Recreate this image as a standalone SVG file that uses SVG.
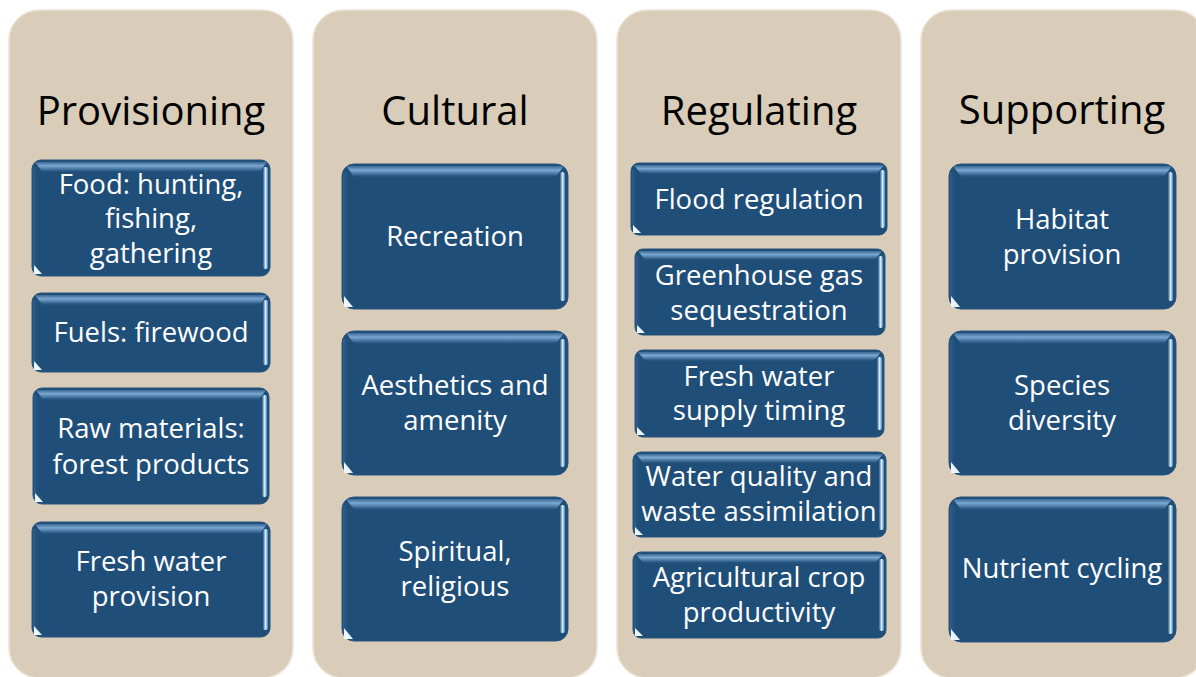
<svg xmlns="http://www.w3.org/2000/svg" width="1196" height="677" viewBox="0 0 1196 677">
<defs>
<linearGradient id="gTop" x1="0" y1="0" x2="0" y2="1">
<stop offset="0" stop-color="#3a6996"/>
<stop offset="0.35" stop-color="#7ba7d0"/>
<stop offset="0.7" stop-color="#3c6c99"/>
<stop offset="1" stop-color="#1f4e79" stop-opacity="0"/>
</linearGradient>
<linearGradient id="gRight" x1="0" y1="0" x2="1" y2="0">
<stop offset="0" stop-color="#2a5c8a"/>
<stop offset="0.5" stop-color="#d4ecfb"/>
<stop offset="1" stop-color="#4f86b9"/>
</linearGradient>
<linearGradient id="gLeft" x1="0" y1="0" x2="1" y2="0">
<stop offset="0" stop-color="#2f5f8c"/>
<stop offset="1" stop-color="#1f4e79" stop-opacity="0"/>
</linearGradient>
</defs>
<style>
.col{fill:#d9cdb9;stroke:#ece5d8;stroke-width:1.5}
.title{font-family:"Open Sans","Noto Sans",sans-serif;font-size:40px;fill:#000;text-anchor:middle}
.bx{fill:#1f4e79;stroke:#2b557c;stroke-width:1}
.top{fill:url(#gTop)}
.rt{fill:url(#gRight)}
.lf{fill:url(#gLeft)}
.tri{fill:#eaf5fd}
.lbl{font-family:"Open Sans","Noto Sans",sans-serif;font-size:27.5px;fill:#fff;text-anchor:middle}
</style>
<g id="connectors"/>

<g id="col-provisioning">
<rect class="col" x="9" y="10" width="284" height="668" rx="30"/>
<text class="title" x="151" y="125">Provisioning</text>
</g>
<g id="col-cultural">
<rect class="col" x="313" y="10" width="284" height="668" rx="30"/>
<text class="title" x="455" y="125">Cultural</text>
</g>
<g id="col-regulating">
<rect class="col" x="617" y="10" width="284" height="668" rx="30"/>
<text class="title" x="759" y="125">Regulating</text>
</g>
<g id="col-supporting">
<rect class="col" x="921" y="10" width="284" height="668" rx="30"/>
<text class="title" x="1062" y="124">Supporting</text>
</g>

<!-- Provisioning boxes -->
<g id="food">
<rect class="bx" x="32" y="160" width="238" height="116" rx="9"/>
<path class="top" d="M35,162 H267 L259,173 H43 Z"/>
<rect class="lf" x="33" y="167" width="6" height="102"/>
<rect class="rt" x="263" y="167" width="5" height="102" rx="2"/>
<path class="tri" d="M34,265 V274 H42 Z"/>
<text class="lbl" x="151" y="194">Food: hunting,</text>
<text class="lbl" x="151" y="228">fishing,</text>
<text class="lbl" x="151" y="263">gathering</text>
</g>
<g id="fuels">
<rect class="bx" x="32" y="293" width="238" height="79" rx="9"/>
<path class="top" d="M35,295 H267 L259,306 H43 Z"/>
<rect class="lf" x="33" y="300" width="6" height="65"/>
<rect class="rt" x="263" y="300" width="5" height="65" rx="2"/>
<path class="tri" d="M34,361 V370 H42 Z"/>
<text class="lbl" x="151" y="342">Fuels: firewood</text>
</g>
<g id="raw">
<rect class="bx" x="33" y="388" width="236" height="116" rx="9"/>
<path class="top" d="M36,390 H266 L258,401 H44 Z"/>
<rect class="lf" x="34" y="395" width="6" height="102"/>
<rect class="rt" x="262" y="395" width="5" height="102" rx="2"/>
<path class="tri" d="M35,493 V502 H43 Z"/>
<text class="lbl" x="151" y="438">Raw materials:</text>
<text class="lbl" x="151" y="474">forest products</text>
</g>
<g id="freshwater">
<rect class="bx" x="32" y="522" width="238" height="115" rx="9"/>
<path class="top" d="M35,524 H267 L259,535 H43 Z"/>
<rect class="lf" x="33" y="529" width="6" height="101"/>
<rect class="rt" x="263" y="529" width="5" height="101" rx="2"/>
<path class="tri" d="M34,626 V635 H42 Z"/>
<text class="lbl" x="151" y="571">Fresh water</text>
<text class="lbl" x="151" y="606">provision</text>
</g>

<!-- Cultural boxes -->
<g id="recreation">
<rect class="bx" x="342" y="164" width="226" height="145" rx="12"/>
<path class="top" d="M346,166 H564 L555,178 H355 Z"/>
<rect class="lf" x="343" y="172" width="7" height="129"/>
<rect class="rt" x="560" y="172" width="5" height="129" rx="2"/>
<path class="tri" d="M344,296 V307 H353 Z"/>
<text class="lbl" x="455" y="246">Recreation</text>
</g>
<g id="aesthetics">
<rect class="bx" x="342" y="331" width="226" height="144" rx="12"/>
<path class="top" d="M346,333 H564 L555,345 H355 Z"/>
<rect class="lf" x="343" y="339" width="7" height="128"/>
<rect class="rt" x="560" y="339" width="5" height="128" rx="2"/>
<path class="tri" d="M344,462 V473 H353 Z"/>
<text class="lbl" x="455" y="395">Aesthetics and</text>
<text class="lbl" x="455" y="430">amenity</text>
</g>
<g id="spiritual">
<rect class="bx" x="342" y="497" width="226" height="144" rx="12"/>
<path class="top" d="M346,499 H564 L555,511 H355 Z"/>
<rect class="lf" x="343" y="505" width="7" height="128"/>
<rect class="rt" x="560" y="505" width="5" height="128" rx="2"/>
<path class="tri" d="M344,628 V639 H353 Z"/>
<text class="lbl" x="455" y="561">Spiritual,</text>
<text class="lbl" x="455" y="596">religious</text>
</g>

<!-- Regulating boxes -->
<g id="flood">
<rect class="bx" x="631" y="163" width="256" height="72" rx="8"/>
<path class="top" d="M634,165 H884 L876,175 H642 Z"/>
<rect class="lf" x="632" y="170" width="6" height="58"/>
<rect class="rt" x="880" y="170" width="5" height="58" rx="2"/>
<path class="tri" d="M633,225 V233 H641 Z"/>
<text class="lbl" x="759" y="209">Flood regulation</text>
</g>
<g id="ghg">
<rect class="bx" x="635" y="249" width="250" height="86" rx="8"/>
<path class="top" d="M638,251 H882 L874,261 H646 Z"/>
<rect class="lf" x="636" y="256" width="6" height="72"/>
<rect class="rt" x="878" y="256" width="5" height="72" rx="2"/>
<path class="tri" d="M637,325 V333 H645 Z"/>
<text class="lbl" x="759" y="285">Greenhouse gas</text>
<text class="lbl" x="759" y="320">sequestration</text>
</g>
<g id="supplytiming">
<rect class="bx" x="635" y="350" width="249" height="87" rx="8"/>
<path class="top" d="M638,352 H881 L873,362 H646 Z"/>
<rect class="lf" x="636" y="357" width="6" height="73"/>
<rect class="rt" x="877" y="357" width="5" height="73" rx="2"/>
<path class="tri" d="M637,427 V435 H645 Z"/>
<text class="lbl" x="759" y="386">Fresh water</text>
<text class="lbl" x="759" y="420">supply timing</text>
</g>
<g id="waterquality">
<rect class="bx" x="633" y="452" width="253" height="85" rx="8"/>
<path class="top" d="M636,454 H883 L875,464 H644 Z"/>
<rect class="lf" x="634" y="459" width="6" height="71"/>
<rect class="rt" x="879" y="459" width="5" height="71" rx="2"/>
<path class="tri" d="M635,527 V535 H643 Z"/>
<text class="lbl" x="759" y="486">Water quality and</text>
<text class="lbl" x="759" y="521">waste assimilation</text>
</g>
<g id="agri">
<rect class="bx" x="633" y="552" width="253" height="86" rx="8"/>
<path class="top" d="M636,554 H883 L875,564 H644 Z"/>
<rect class="lf" x="634" y="559" width="6" height="72"/>
<rect class="rt" x="879" y="559" width="5" height="72" rx="2"/>
<path class="tri" d="M635,628 V636 H643 Z"/>
<text class="lbl" x="759" y="587">Agricultural crop</text>
<text class="lbl" x="759" y="622">productivity</text>
</g>

<!-- Supporting boxes -->
<g id="habitat">
<rect class="bx" x="949" y="164" width="227" height="145" rx="12"/>
<path class="top" d="M953,166 H1172 L1163,178 H962 Z"/>
<rect class="lf" x="950" y="172" width="7" height="129"/>
<rect class="rt" x="1168" y="172" width="5" height="129" rx="2"/>
<path class="tri" d="M951,296 V307 H960 Z"/>
<text class="lbl" x="1062" y="229">Habitat</text>
<text class="lbl" x="1062" y="264">provision</text>
</g>
<g id="species">
<rect class="bx" x="949" y="331" width="227" height="144" rx="12"/>
<path class="top" d="M953,333 H1172 L1163,345 H962 Z"/>
<rect class="lf" x="950" y="339" width="7" height="128"/>
<rect class="rt" x="1168" y="339" width="5" height="128" rx="2"/>
<path class="tri" d="M951,462 V473 H960 Z"/>
<text class="lbl" x="1062" y="395">Species</text>
<text class="lbl" x="1062" y="430">diversity</text>
</g>
<g id="nutrient">
<rect class="bx" x="949" y="497" width="227" height="145" rx="12"/>
<path class="top" d="M953,499 H1172 L1163,511 H962 Z"/>
<rect class="lf" x="950" y="505" width="7" height="129"/>
<rect class="rt" x="1168" y="505" width="5" height="129" rx="2"/>
<path class="tri" d="M951,629 V640 H960 Z"/>
<text class="lbl" x="1062" y="578">Nutrient cycling</text>
</g>
</svg>
